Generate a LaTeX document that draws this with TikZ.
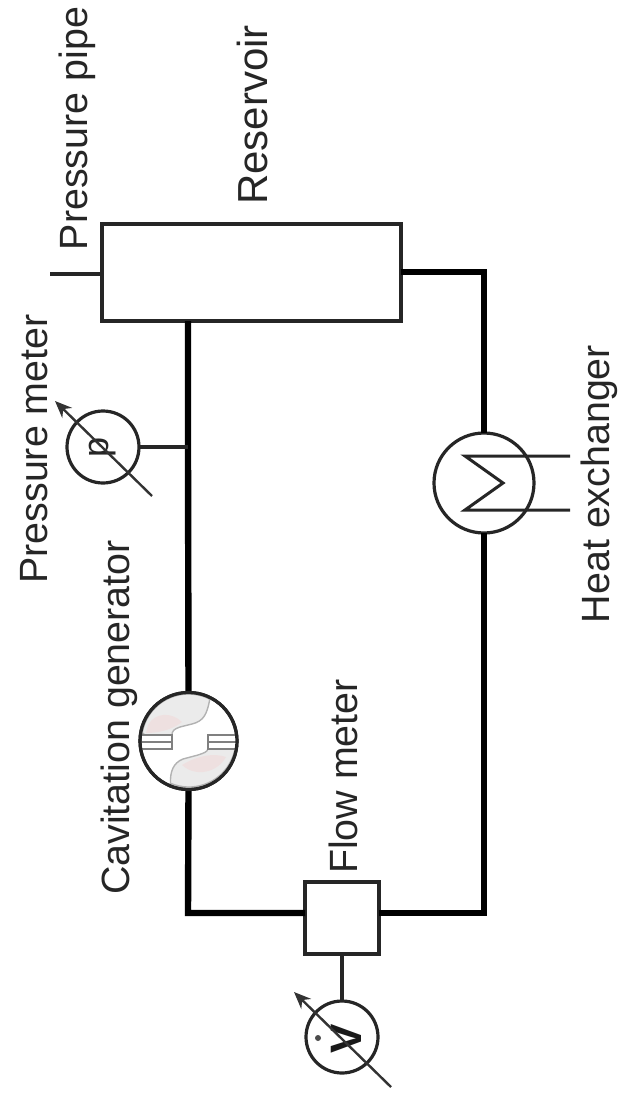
\documentclass[tikz,border=0pt]{standalone}
\usepackage{fontspec}
\setmainfont{Liberation Sans}
\usetikzlibrary{arrows.meta}
\tikzset{
  lbl/.style={font=\fontsize{39.4}{42}\selectfont,rotate=90,inner sep=0pt,anchor=base,text=black!85},
  pipe/.style={line width=6.4pt,draw=black},
  thin pipe/.style={line width=3.2pt,draw=black!85},
  unit/.style={draw=black!85,line width=3.2pt,fill=white,inner sep=0pt,outer sep=0pt},
  dial/.style={circle,unit,minimum size=72pt},
  pointer/.style={line width=2.4pt,draw=black!80,-{Stealth[length=17pt,width=14pt]}},
  blob/.style={fill=black!8,draw=black!30,line width=1.4pt},
  slot/.style={draw=black!50,line width=2pt},
}
\begin{document}
\begin{tikzpicture}[x=1pt,y=-1pt]
\useasboundingbox (0,0) rectangle (619,1102);
% units
\node[unit,minimum width=299pt,minimum height=97pt] (res) at (251.5,272.5) {};
\node[unit,minimum width=74pt,minimum height=72pt] (flow) at (342,918) {};
\node[dial] (pg) at (103,447) {};
\node[dial] (fg) at (342,1037) {};
\node[circle,unit,minimum size=100pt] (hx) at (484,483) {};
\node[circle,unit,minimum size=97pt,fill=none] (cav) at (188.5,741) {};
\coordinate (top) at (188,321);
\coordinate (tee) at (188,447);
\coordinate (bl) at (188,913);
\coordinate (br) at (484,913);
\coordinate (tr) at (484,272);
\coordinate (stub) at (50,274);
\coordinate (resl) at (102,274);
\coordinate (resr) at (401,272);
\coordinate (flowl) at (305,913);
\coordinate (flowr) at (379,913);
% pipes
\draw[pipe] (top) -- (tee) -- (cav.north);
\draw[pipe,line join=miter] (cav.south) -- (bl) -- (flowl);
\draw[pipe,line join=miter] (flowr) -- (br) -- (hx.south);
\draw[pipe,line join=miter] (hx.north) -- (tr) -- (resr);
\draw[thin pipe] (stub) -- (resl);
\draw[thin pipe] (pg.east) -- (tee);
\draw[thin pipe] (flow.south) -- (fg.north);
% cavitation generator
\draw[blob] (142.2,732.8) arc[start angle=190,end angle=297,radius=47] .. controls (207,714) and (204,721) .. (192,724) -- (180,727) .. controls (174,729) and (172,731) .. (172,735) -- (145,735) -- cycle;
\draw[blob] (235,749) arc[start angle=11,end angle=113,radius=47] .. controls (170,772) and (173,763) .. (183,759) -- (198,755) .. controls (204,753) and (207,752) .. (208,749) -- cycle;
\fill[red!30!white,opacity=.18] (148,725) .. controls (155,712) and (172,712) .. (182,722) .. controls (172,730) and (158,733) .. (146,733) -- cycle;
\fill[red!30!white,opacity=.18] (182,765) .. controls (198,755) and (215,753) .. (226,757) .. controls (218,772) and (196,778) .. (182,765) -- cycle;
\fill[white] (142,735) rectangle (172,749);
\fill[white] (208,735) rectangle (236,749);
\draw[slot] (142,735) -- (172,735) -- (172,749) -- (142,749);
\draw[slot] (142,742) -- (172,742);
\draw[slot] (236,735) -- (208,735) -- (208,749) -- (236,749);
\draw[slot] (236,742) -- (208,742);
\node[circle,draw=black!85,line width=3.2pt,minimum size=97pt,inner sep=0pt] (cavring) at (cav) {};
% heat exchanger coil
\coordinate (hxa) at (570,456);
\coordinate (hxb) at (465,456);
\coordinate (hxc) at (503,483);
\coordinate (hxd) at (465,510);
\coordinate (hxe) at (570,510);
\draw[line width=3pt,draw=black!85,miter limit=6] (hxa) -- (hxb) -- (hxc) -- (hxd) -- (hxe);
% gauges
\node[rotate=90,inner sep=0pt,text=black!85,font=\fontsize{36}{36}\selectfont] (plet) at (103,447) {p};
\node[rotate=90,inner sep=0pt,text=black!90,font=\bfseries\fontsize{44}{44}\selectfont] (vlet) at (346,1039) {V};
\node[circle,fill=black!70,minimum size=6pt,inner sep=0pt] (vdot) at (318,1038) {};
\coordinate (pa) at (152,496);
\coordinate (pb) at (55,401);
\coordinate (fa) at (391,1087);
\coordinate (fb) at (294,992);
\draw[pointer] (pa) -- (pb);
\draw[pointer] (fa) -- (fb);
% labels
\node[lbl] (l1) at (87,128.5) {Pressure pipe};
\node[lbl,font=\fontsize{42}{44}\selectfont] (l2) at (267,115) {Reservoir};
\node[lbl] (l3) at (47,449) {Pressure meter};
\node[lbl] (l4) at (609,484) {Heat exchanger};
\node[lbl] (l5) at (129,717.5) {Cavitation generator};
\node[lbl] (l6) at (357,776.5) {Flow meter};
\end{tikzpicture}
\end{document}
